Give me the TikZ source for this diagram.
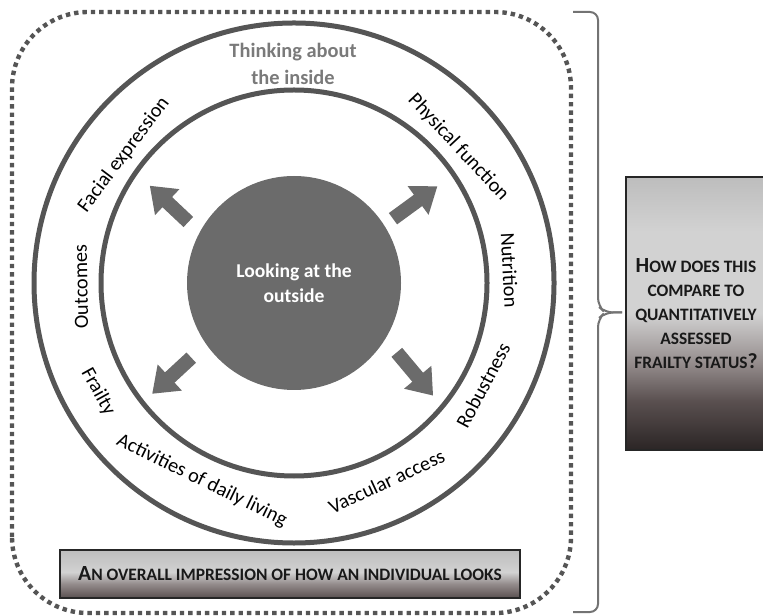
\documentclass[tikz,border=0pt]{standalone}
\usepackage{fontspec}
\setmainfont{Carlito}
\usetikzlibrary{arrows.meta,positioning}
\definecolor{ringgray}{HTML}{555555}
\definecolor{blobgray}{HTML}{6B6B6B}
\definecolor{thinkgray}{HTML}{7A7A7A}
\definecolor{qdark}{HTML}{2B2525}
\definecolor{qdeep}{HTML}{5A5050}
\definecolor{qmid}{HTML}{958D8D}
\definecolor{qlight}{HTML}{D2D2D2}
\definecolor{qtop}{HTML}{BDBDBD}
\pgfdeclareverticalshading{qshade}{100bp}{color(0bp)=(qdark); color(25bp)=(qdark);
  color(34bp)=(qdeep); color(41bp)=(qmid); color(50bp)=(qlight); color(65bp)=(qlight);
  color(75bp)=(qtop); color(100bp)=(qtop)}
\pgfdeclareverticalshading{ishade}{100bp}{color(0bp)=(qdeep); color(25bp)=(qdeep);
  color(40bp)=(qmid); color(52bp)=(qlight); color(75bp)=(qtop); color(100bp)=(qtop)}
\newcommand{\smc}[1]{{\fontsize{8.7}{9}\selectfont #1}}

\begin{document}
\begin{tikzpicture}[x=0.5pt,y=0.5pt,font=\fontsize{10.1}{11}\selectfont,
  ring/.style={draw=ringgray,line width=2.5pt},
  lbl/.style={inner sep=0pt},
  arr/.style={draw=blobgray,line width=7pt,-{Triangle[width=17pt,length=12pt]}},
  brc/.style={draw=black!55,line width=1pt,rounded corners=4pt},
  sbox/.style={draw=black!85,line width=0.6pt,inner sep=0pt,align=center,
    font=\bfseries\fontsize{10.8}{12}\selectfont,text=black!90}]
\clip (0,0) rectangle (763,615);
\draw[ringgray,line width=2.2pt,dash pattern=on 2.2pt off 2pt,rounded corners=38pt] (12,2) rectangle (571,603);
\coordinate (c) at (294,332);
\draw[ring] (c) circle[radius=260];
\draw[ring] (c) circle[radius=193];
\node[circle,fill=blobgray,minimum size=107pt,inner sep=0pt,align=center,text=white,
  font=\bfseries\fontsize{9.8}{12.5}\selectfont] (outside) at (c) {Looking at the\\outside};
\node[align=center,text=thinkgray,font=\bfseries\fontsize{10.2}{13.5}\selectfont] (inside) at (293,551) {Thinking about\\the inside};
\begin{scope}[shift={(c)}]
\foreach \nm/\ta/\tr/\ha/\hr in {ne/33/118/34/173,nw/150/122/146/174,sw/216/127/218/180,se/326/124/321/179}{
  \coordinate (\nm t) at (\ta:\tr); \coordinate (\nm h) at (\ha:\hr);
  \draw[arr] (\nm t) -- (\nm h);}
\node[lbl,rotate=53] (facial) at (143:213) {Facial expression};
\node[lbl,rotate=-47] (physical) at (39.5:213) {Physical function};
\node[lbl,rotate=-87] (nutrition) at (3.4:216) {Nutrition};
\node[lbl,rotate=62] (robust) at (331.6:215) {Robustness};
\node[lbl,rotate=25] (vascular) at (295:219) {Vascular access};
\node[lbl,rotate=-26] (adl) at (245:218) {Activities of daily living};
\node[lbl,rotate=-61] (frailty) at (209:224) {Frailty};
\node[lbl,rotate=91] (outcomes) at (181:213) {Outcomes};
\end{scope}
\node[sbox,shading=ishade,minimum width=230pt,minimum height=24pt] (impression) at (290,41)
  {A\smc{N OVERALL IMPRESSION OF HOW AN INDIVIDUAL LOOKS}};
\node[sbox,shading=qshade,minimum width=70pt,minimum height=136.5pt] (compare) at (696,301.5)
  {H\smc{OW DOES THIS}\\\smc{COMPARE TO}\\\smc{QUANTITATIVELY}\\\smc{ASSESSED}\\\smc{FRAILTY STATUS}?};
\coordinate (bt) at (573,603); \coordinate (bb) at (573,3); \coordinate (btip) at (622,302.5);
\draw[brc] (bt) -- (598,603) -- (598,309) -- (605,302.5) -- (btip);
\draw[brc] (bb) -- (598,3) -- (598,296) -- (605,302.5) -- (btip);
\end{tikzpicture}
\end{document}
